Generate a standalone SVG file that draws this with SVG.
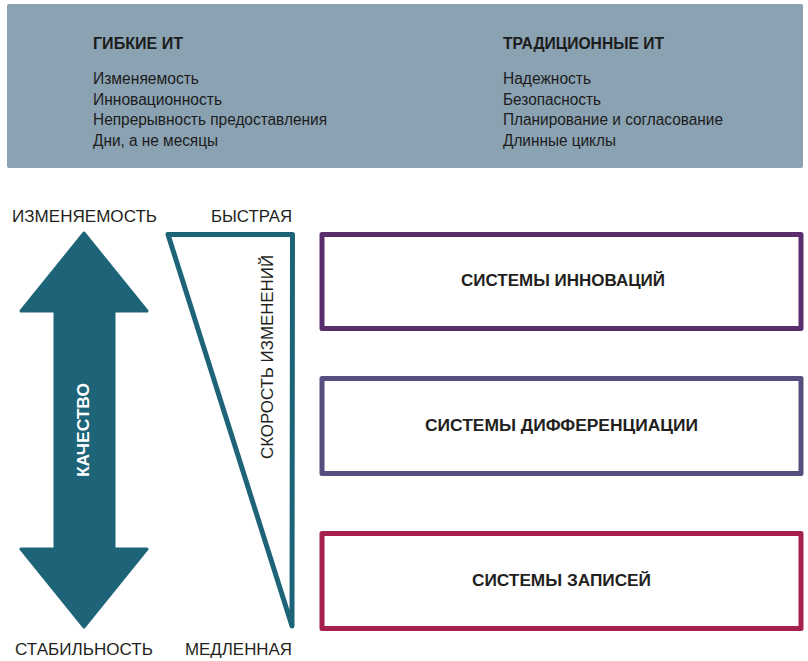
<svg xmlns="http://www.w3.org/2000/svg" width="808" height="661" viewBox="0 0 808 661">
  <style>
    .panel-head { font-family: "Liberation Sans", Arial, sans-serif; font-size: 16px; font-weight: bold; fill: #1c1c1c; }
    .panel-item { font-family: "Liberation Sans", Arial, sans-serif; font-size: 16px; fill: #1c1c1c; }
    .axis-label { font-family: "Liberation Sans", Arial, sans-serif; font-size: 16px; fill: #231f20; }
    .box-label { font-family: "Liberation Sans", Arial, sans-serif; font-size: 16px; font-weight: bold; fill: #231f20; text-anchor: middle; }
    .box { fill: #ffffff; stroke-width: 5; stroke-linejoin: round; }
    .teal { fill: #1e6479; stroke: #1e6479; }
  </style>

  <!-- header panel: agile vs traditional IT -->
  <g id="header-panel">
    <rect x="7" y="4" width="796" height="164" rx="2" fill="#8aa2b2"/>
    <g id="agile-it">
      <text class="panel-head" x="93" y="49" textLength="90" lengthAdjust="spacingAndGlyphs">ГИБКИЕ ИТ</text>
      <text class="panel-item" x="93" y="84" textLength="106" lengthAdjust="spacingAndGlyphs">Изменяемость</text>
      <text class="panel-item" x="93" y="104.5" textLength="129" lengthAdjust="spacingAndGlyphs">Инновационность</text>
      <text class="panel-item" x="93" y="125" textLength="234" lengthAdjust="spacingAndGlyphs">Непрерывность предоставления</text>
      <text class="panel-item" x="93" y="145.5" textLength="125" lengthAdjust="spacingAndGlyphs">Дни, а не месяцы</text>
    </g>
    <g id="traditional-it">
      <text class="panel-head" x="503" y="49" textLength="161" lengthAdjust="spacingAndGlyphs">ТРАДИЦИОННЫЕ ИТ</text>
      <text class="panel-item" x="503" y="84" textLength="88" lengthAdjust="spacingAndGlyphs">Надежность</text>
      <text class="panel-item" x="503" y="104.5" textLength="98" lengthAdjust="spacingAndGlyphs">Безопасность</text>
      <text class="panel-item" x="503" y="125" textLength="220" lengthAdjust="spacingAndGlyphs">Планирование и согласование</text>
      <text class="panel-item" x="503" y="145.5" textLength="113" lengthAdjust="spacingAndGlyphs">Длинные циклы</text>
    </g>
  </g>

  <!-- quality double arrow -->
  <g id="quality-arrow">
    <text class="axis-label" x="12" y="222" textLength="145" lengthAdjust="spacingAndGlyphs">ИЗМЕНЯЕМОСТЬ</text>
    <polygon class="teal" stroke-width="3" stroke-linejoin="round"
             points="84,233 147,311 114,311 114,549 147,549 84,627 21,549 55,549 55,311 21,311"/>
    <text transform="translate(89,430) rotate(-90)" text-anchor="middle"
          font-family="Liberation Sans, Arial, sans-serif" font-size="16" font-weight="bold" fill="#ffffff"
          textLength="94" lengthAdjust="spacingAndGlyphs">КАЧЕСТВО</text>
    <text class="axis-label" x="15" y="655" textLength="138" lengthAdjust="spacingAndGlyphs">СТАБИЛЬНОСТЬ</text>
  </g>

  <!-- speed-of-change wedge -->
  <g id="speed-wedge">
    <text class="axis-label" x="211" y="222" textLength="81" lengthAdjust="spacingAndGlyphs">БЫСТРАЯ</text>
    <polygon points="168,234.5 292.5,234.5 292,626" fill="#ffffff" stroke="#1e6479" stroke-width="5" stroke-linejoin="round"/>
    <text transform="translate(273,357) rotate(-90)" text-anchor="middle"
          font-family="Liberation Sans, Arial, sans-serif" font-size="16" fill="#231f20"
          textLength="204" lengthAdjust="spacingAndGlyphs">СКОРОСТЬ ИЗМЕНЕНИЙ</text>
    <text class="axis-label" x="185" y="655" textLength="107" lengthAdjust="spacingAndGlyphs">МЕДЛЕННАЯ</text>
  </g>

  <!-- system layers -->
  <g id="systems-innovation">
    <rect class="box" x="322" y="234.5" width="479" height="94" stroke="#5a2d6d"/>
    <text class="box-label" x="563" y="286" textLength="204" lengthAdjust="spacingAndGlyphs">СИСТЕМЫ ИННОВАЦИЙ</text>
  </g>
  <g id="systems-differentiation">
    <rect class="box" x="322" y="378.5" width="479" height="95" stroke="#584d7f"/>
    <text class="box-label" x="561.5" y="431" textLength="273" lengthAdjust="spacingAndGlyphs">СИСТЕМЫ ДИФФЕРЕНЦИАЦИИ</text>
  </g>
  <g id="systems-record">
    <rect class="box" x="322" y="533.5" width="479" height="95" stroke="#a51f4f"/>
    <text class="box-label" x="561.5" y="586" textLength="179" lengthAdjust="spacingAndGlyphs">СИСТЕМЫ ЗАПИСЕЙ</text>
  </g>

  <!-- no connectors in this layout -->
  <g id="connectors"/>
</svg>
